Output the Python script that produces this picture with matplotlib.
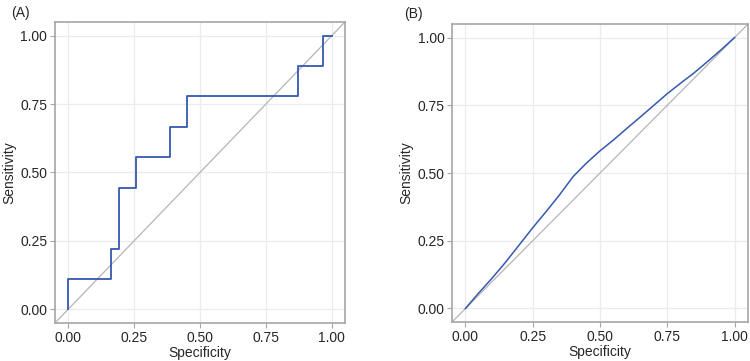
import matplotlib
matplotlib.use("Agg")
import matplotlib.pyplot as plt
import numpy as np

plt.rcParams['font.family'] = ['Liberation Sans', 'DejaVu Sans']

# Panel A: step ROC
spec_a = [0.0, 0.0, 0.161, 0.161, 0.194, 0.194, 0.258, 0.258, 0.387, 0.387,
          0.452, 0.452, 0.871, 0.871, 0.968, 0.968, 1.0]
sens_a = [0.0, 0.111, 0.111, 0.222, 0.222, 0.444, 0.444, 0.556, 0.556, 0.667,
          0.667, 0.778, 0.778, 0.889, 0.889, 1.0, 1.0]

# Panel B: smooth ROC
spec_b = [0.0, 0.05, 0.10, 0.15, 0.20, 0.25, 0.30, 0.35, 0.40, 0.45, 0.50,
          0.55, 0.60, 0.65, 0.70, 0.75, 0.80, 0.85, 0.90, 0.95, 1.0]
sens_b = [0.0, 0.058, 0.113, 0.172, 0.235, 0.298, 0.358, 0.42, 0.487, 0.537, 0.582,
          0.622, 0.665, 0.707, 0.750, 0.793, 0.832, 0.870, 0.912, 0.955, 1.0]

ticks = [0.0, 0.25, 0.5, 0.75, 1.0]
tick_labels = ["0.00", "0.25", "0.50", "0.75", "1.00"]

fig = plt.figure(figsize=(7.5, 3.61), dpi=100)
axA = fig.add_axes([0.0733, 0.1053, 0.3867, 0.834])
axB = fig.add_axes([0.6027, 0.108, 0.3947, 0.8255])

blue = "#3559AE"
diag = "#B5B5B5"
spine_c = "#A6A6A6"
text_c = "#262626"

def style(ax):
    ax.set_xlim(-0.05, 1.05)
    ax.set_ylim(-0.05, 1.05)
    ax.set_xticks(ticks)
    ax.set_xticklabels(tick_labels)
    ax.set_yticks(ticks)
    ax.set_yticklabels(tick_labels)
    ax.grid(True, color="#EBEBEB", linewidth=0.9)
    ax.set_axisbelow(True)
    for s in ax.spines.values():
        s.set_color(spine_c)
        s.set_linewidth(1.2)
    ax.tick_params(colors=spine_c, labelcolor=text_c, labelsize=10, length=3.5, width=0.8, pad=2)
    ax.set_xlabel("Specificity", fontsize=10, color=text_c, labelpad=1)
    ax.set_ylabel("Sensitivity", fontsize=10, color=text_c, labelpad=3)
    ax.plot([-0.05, 1.05], [-0.05, 1.05], color=diag, linewidth=0.9, zorder=2)

style(axA)
axA.plot(spec_a, sens_a, color=blue, linewidth=1.3, zorder=3)
fig.text(11/750, 1 - 13/361, "(A)", fontsize=10, color=text_c, ha="left", va="center")

style(axB)
axB.plot(spec_b, sens_b, color=blue, linewidth=1.1, zorder=3)
fig.text(404/750, 1 - 14/361, "(B)", fontsize=10, color=text_c, ha="left", va="center")

fig.savefig("out.png", dpi=100)
